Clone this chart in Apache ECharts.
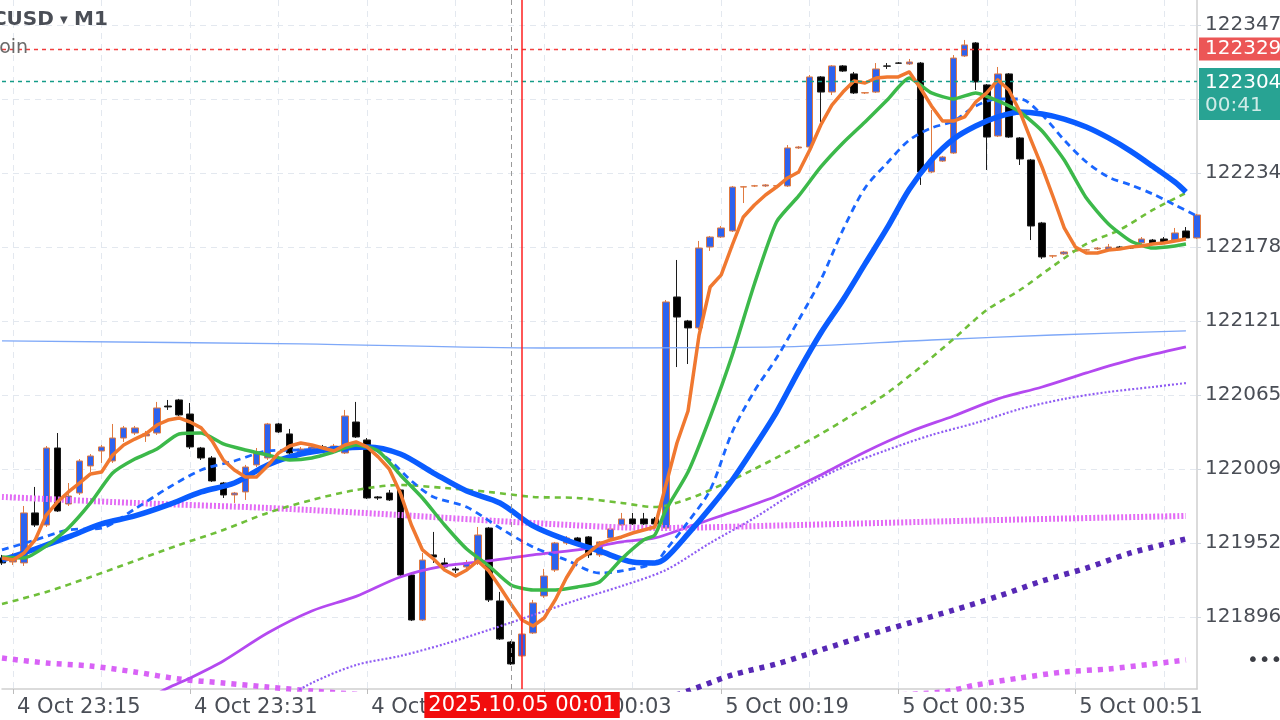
<!DOCTYPE html>
<html><head><meta charset="utf-8">
<script src="https://cdn.jsdelivr.net/npm/echarts@6/dist/echarts.min.js"></script>
<style>html,body{margin:0;padding:0;background:#fff}#c{width:1280px;height:720px}</style>
</head><body><div id="c"></div>
<script>
// ---------- DATA ----------
const categories = [
'4 Oct 23:14','4 Oct 23:15','4 Oct 23:16','4 Oct 23:17','4 Oct 23:18','4 Oct 23:19','4 Oct 23:20','4 Oct 23:21','4 Oct 23:22','4 Oct 23:23',
'4 Oct 23:24','4 Oct 23:25','4 Oct 23:26','4 Oct 23:27','4 Oct 23:28','4 Oct 23:29','4 Oct 23:30','4 Oct 23:31','4 Oct 23:32','4 Oct 23:33',
'4 Oct 23:34','4 Oct 23:35','4 Oct 23:36','4 Oct 23:37','4 Oct 23:38','4 Oct 23:39','4 Oct 23:40','4 Oct 23:41','4 Oct 23:42','4 Oct 23:43',
'4 Oct 23:44','4 Oct 23:45','4 Oct 23:46','4 Oct 23:47','4 Oct 23:48','4 Oct 23:49','4 Oct 23:50','4 Oct 23:51','4 Oct 23:52','4 Oct 23:53',
'4 Oct 23:54','4 Oct 23:55','4 Oct 23:56','4 Oct 23:57','4 Oct 23:58','4 Oct 23:59','5 Oct 00:00','5 Oct 00:01','5 Oct 00:02','5 Oct 00:03',
'5 Oct 00:04','5 Oct 00:05','5 Oct 00:06','5 Oct 00:07','5 Oct 00:08','5 Oct 00:09','5 Oct 00:10','5 Oct 00:11','5 Oct 00:12','5 Oct 00:13',
'5 Oct 00:14','5 Oct 00:15','5 Oct 00:16','5 Oct 00:17','5 Oct 00:18','5 Oct 00:19','5 Oct 00:20','5 Oct 00:21','5 Oct 00:22','5 Oct 00:23',
'5 Oct 00:24','5 Oct 00:25','5 Oct 00:26','5 Oct 00:27','5 Oct 00:28','5 Oct 00:29','5 Oct 00:30','5 Oct 00:31','5 Oct 00:32','5 Oct 00:33',
'5 Oct 00:34','5 Oct 00:35','5 Oct 00:36','5 Oct 00:37','5 Oct 00:38','5 Oct 00:39','5 Oct 00:40','5 Oct 00:41','5 Oct 00:42','5 Oct 00:43',
'5 Oct 00:44','5 Oct 00:45','5 Oct 00:46','5 Oct 00:47','5 Oct 00:48','5 Oct 00:49','5 Oct 00:50','5 Oct 00:51','5 Oct 00:52','5 Oct 00:53',
'5 Oct 00:54','5 Oct 00:55','5 Oct 00:56','5 Oct 00:57','5 Oct 00:58','5 Oct 00:59','5 Oct 01:00','5 Oct 01:01','5 Oct 01:02'
];

const opens = [
121941.3,121938.2,121937.5,121975.6,121966.4,122025.1,121982.4,121990.8,122011.4,122022.8,
122015.2,122032.7,122036.5,122034.3,122036.5,122057.1,122061.7,122051.0,122025.1,122017.5,
121998.4,121989.3,121991.6,122012.2,122017.5,122043.4,122035.8,122022.1,122024.3,122025.9,
122023.6,122021.3,122044.9,122031.2,121987.8,121990.8,121993.1,121928.3,121894.0,121943.6,
121937.5,121932.9,121934.4,121937.5,121964.1,121908.5,121877.2,121866.6,121884.1,121912.3,
121932.1,121952.7,121956.5,121957.3,121943.6,121956.5,121966.4,121971.0,121971.0,121971.0,
121964.1,122140.2,122121.9,122116.6,122178.3,122185.9,122190.5,122224.0,122224.8,122224.8,
122224.8,122224.8,122253.8,122254.5,122307.9,122296.4,122316.3,122310.2,122295.7,122296.4,
122316.3,122318.5,122317.8,122318.5,122235.5,122243.8,122249.9,122323.9,122333.8,122301.8,
122262.9,122310.2,122261.4,122244.6,122196.6,122171.4,122173.0,122175.3,122176.0,122176.8,
122176.0,122178.3,122178.3,122181.4,122183.6,122184.4,122183.6,122190.5,122185.2
];
const closes = [
121937.5,121941.3,121975.6,121966.4,122025.1,121977.1,121988.5,122015.2,122019.0,122025.9,
122032.7,122040.4,122040.4,122035.8,122055.6,122056.4,122050.3,122025.9,122017.5,122000.0,
121989.3,121990.8,122010.6,122021.3,122043.4,122037.3,122021.3,122024.3,122025.9,122025.1,
122026.6,122049.5,122033.5,121987.0,121987.0,121985.5,121928.3,121894.0,121939.7,121942.0,
121934.4,121932.1,121937.5,121958.8,121909.3,121879.5,121860.5,121883.3,121907.0,121927.5,
121952.7,121956.5,121952.7,121943.6,121953.5,121963.4,121971.0,121967.2,121967.2,121967.2,
122136.4,122124.9,122116.6,122177.5,122185.9,122192.8,122224.0,122224.2,122224.9,122225.6,
122225.0,122253.8,122254.5,122307.9,122296.4,122316.3,122312.4,122295.7,122295.9,122314.0,
122316.1,122318.4,122319.3,122235.5,122244.6,122246.9,122322.3,122332.3,122304.1,122262.1,
122310.2,122262.1,122245.4,122194.3,122170.7,122171.6,122174.5,122175.4,122176.1,122177.5,
122178.3,122177.5,122177.5,122184.4,122181.4,122181.4,122189.0,122185.2,122202.7
];
const lows = [
121935.9,121935.9,121935.2,121964.9,121964.9,121976.3,121980.9,121989.3,122006.8,122013.7,
122013.7,122029.7,122035.0,122029.7,122035.0,122054.1,122049.5,122024.3,122016.0,121999.2,
121987.0,121983.2,121985.5,122010.6,122016.0,122036.5,122019.8,122020.5,122022.8,122023.6,
122022.1,122020.5,122032.7,121986.2,121985.5,121984.7,121927.5,121893.2,121893.2,121937.5,
121933.6,121929.8,121932.1,121935.9,121907.7,121878.8,121859.7,121865.8,121883.3,121910.8,
121930.6,121951.2,121951.2,121941.3,121942.0,121955.0,121965.7,121966.4,121966.4,121965.7,
121963.4,122086.8,122089.1,122115.0,122175.3,122185.2,122189.7,122211.8,122224.0,122224.0,
122223.3,122224.0,122253.0,122253.8,122273.6,122294.1,122311.7,122294.9,122294.9,122295.7,
122314.0,122317.8,122317.0,122225.6,122234.7,122243.1,122249.2,122323.1,122298.0,122237.0,
122262.1,122261.4,122240.8,122183.6,122169.2,122169.9,122172.2,122174.5,122175.3,122176.0,
122175.3,122176.8,122176.8,122180.6,122180.6,122180.6,122182.9,122184.4,122184.4
];
const highs = [
121943.6,121945.1,121980.9,121995.4,122026.6,122036.5,121998.4,122016.7,122020.5,122027.4,
122043.4,122041.9,122041.9,122038.1,122060.2,122061.7,122062.5,122059.4,122025.9,122019.0,
121999.2,121991.6,122012.2,122025.1,122044.2,122044.2,122039.6,122025.9,122027.4,122027.4,
122028.2,122054.1,122060.2,122032.7,121988.5,121993.1,121993.9,121929.1,121945.1,121961.1,
121941.3,121934.4,121939.7,121964.9,121964.9,121915.4,121878.0,121894.0,121909.3,121932.9,
121953.5,121958.0,121957.3,121958.0,121954.2,121964.1,121975.6,121975.6,121975.6,121972.5,
122137.9,122168.4,122122.7,122182.9,122186.7,122194.3,122224.8,122224.8,122225.6,122226.3,
122225.6,122256.0,122255.3,122309.4,122308.6,122317.0,122317.0,122311.7,122296.4,122318.5,
122318.5,122319.3,122321.6,122319.3,122282.7,122247.7,122324.6,122336.1,122334.5,122302.5,
122315.5,122310.9,122262.1,122245.4,122197.4,122172.2,122175.3,122176.0,122176.8,122178.3,
122180.6,122179.1,122179.1,122185.9,122184.4,122185.9,122192.8,122193.5,122203.5
];

// fast EMA (orange), one value per minute from 23:14
const emaFast = [
121941.3,121939.7,121945.1,121955.0,121974.0,121983.9,121991.6,121998.4,122005.3,122006.8,
122019.8,122027.4,122031.9,122035.8,122042.6,122046.4,122048.0,122044.9,122040.4,122030.4,
122016.0,122008.3,122003.0,122003.0,122011.4,122021.3,122026.6,122028.9,122027.4,122025.1,
122022.8,122027.4,122029.7,122025.9,122018.3,122009.1,121990.8,121966.4,121947.4,121940.5,
121932.1,121927.5,121932.1,121939.0,121931.4,121919.2,121906.2,121894.0,121889.4,121895.5,
121909.3,121926.0,121939.7,121945.1,121952.0,121955.0,121957.3,121960.3,121962.6,121964.9,
121996.9,122028.9,122053.3,122111.2,122147.8,122157.0,122179.8,122201.2,122210.3,122217.9,
122224.0,122230.9,122235.5,122252.2,122271.3,122286.5,122296.4,122304.8,122303.3,122307.1,
122307.9,122307.9,122311.7,122299.5,122285.8,122274.3,122274.3,122277.4,122288.8,122295.7,
122305.6,122298.0,122281.2,122259.8,122239.2,122216.4,122192.8,122178.3,122173.7,122173.7,
122176.0,122176.8,122178.3,122179.1,122180.6,122181.4,122182.9,122184.4
];
// [minute index, value]
const maGreen = [[0,121942.0],[2,121941.3],[4,121950.4],[6,121964.1],[8,121983.2],[10,122006.0],[12,122016.7],[14,122024.3],[16,122035.8],[18,122036.5],
[20,122028.2],[22,122023.6],[24,122019.8],[26,122016.0],[28,122017.5],[30,122022.1],[32,122027.4],[34,122022.8],[36,122004.5],[38,121987.0],
[40,121966.4],[42,121948.1],[44,121935.2],[46,121920.7],[48,121916.9],[50,121916.9],[52,121919.2],[54,121923.0],[56,121940.5],[58,121955.0],
[59,121958.8],[60,121977.9],[62,122006.8],[64,122048.7],[66,122096.0],[68,122150.1],[70,122197.4],[72,122217.2],[74,122239.3],[76,122257.6],
[78,122273.6],[80,122290.3],[82,122307.1],[83,122301.8],[84,122295.7],[86,122291.1],[88,122295.7],[90,122289.6],[92,122281.2],[94,122266.7],
[96,122244.6],[98,122215.6],[100,122195.9],[102,122182.9],[104,122177.5],[106,122179.1],[107,122180.6]];
const maBlue = [[0,121939.7],[3,121948.1],[6,121957.3],[9,121967.2],[12,121973.3],[15,121981.7],[18,121991.6],[21,121998.4],[24,122012.2],[27,122020.5],
[30,122024.3],[33,122025.9],[36,122020.5],[39,122006.0],[42,121992.3],[45,121983.2],[48,121965.7],[51,121955.0],[54,121946.6],[57,121938.2],
[59,121937.5],[60,121941.3],[62,121959.6],[64,121979.4],[66,122000.7],[68,122025.9],[70,122052.5],[72,122083.7],[74,122112.7],[76,122137.9],
[78,122165.4],[80,122192.8],[82,122222.3],[84,122244.6],[86,122260.6],[88,122270.5],[90,122277.4],[92,122281.2],[94,122279.6],[96,122275.8],
[98,122269.7],[100,122261.4],[102,122251.4],[104,122239.8],[106,122227.8],[107,122220.2]];
const maBlueDash = [[0,121947.4],[3,121955.0],[6,121962.6],[9,121964.1],[12,121978.6],[15,121994.6],[18,122008.3],[21,122015.2],[24,122022.8],[27,122023.6],
[30,122025.1],[33,122025.9],[35,122016.0],[37,122000.0],[39,121987.8],[42,121980.1],[45,121964.1],[48,121949.6],[51,121939.7],[54,121929.8],
[56,121931.4],[59,121937.5],[60,121947.4],[62,121968.7],[64,121993.1],[66,122037.3],[68,122068.5],[70,122093.7],[72,122122.7],[74,122153.2],
[76,122191.3],[78,122223.3],[80,122242.3],[82,122259.8],[84,122269.0],[86,122274.3],[88,122285.8],[90,122291.1],[92,122291.1],[94,122278.9],
[96,122259.8],[98,122243.1],[100,122231.6],[102,122225.6],[104,122218.7],[106,122210.3],[108,122201.9]];
const maGreenDash = [[0,121906.2],[4,121915.4],[8,121926.8],[12,121939.0],[16,121951.2],[20,121962.6],[24,121975.6],[28,121985.5],[32,121993.1],[36,121996.9],
[40,121994.6],[44,121991.6],[48,121987.8],[52,121987.0],[56,121983.2],[59,121980.1],[62,121986.2],[65,121996.9],[68,122009.1],[71,122022.1],
[74,122035.8],[77,122051.0],[80,122067.0],[83,122086.8],[86,122108.2],[89,122130.3],[92,122145.5],[95,122163.8],[98,122180.6],[101,122191.3],
[104,122206.5],[107,122219.5]];
const maLightBlue = [[0,122106.7],[27,122104.4],[49,122101.3],[70,122102.1],[84,122107.4],[95,122111.2],[107,122114.3]];
const maMagenta = [[13,121833.0],[15,121842.2],[17,121849.8],[20,121862.8],[24,121884.1],[28,121900.9],[32,121912.0],[36,121926.8],[40,121935.2],[44,121939.0],
[48,121943.6],[52,121947.4],[56,121953.5],[59,121956.5],[62,121964.9],[66,121976.3],[70,121988.5],[74,122004.5],[78,122022.1],[82,122037.3],
[86,122049.5],[90,122062.5],[94,122071.6],[98,122082.3],[102,122092.2],[107,122102.1]];
const maPinkDots = [[0,121987.8],[12,121983.2],[24,121979.4],[36,121974.0],[48,121967.9],[59,121964.1],[72,121966.4],[90,121970.2],[107,121973.3]];
const maVioletDots = [[25,121831.5],[28,121846.0],[32,121859.7],[36,121866.6],[40,121875.7],[44,121886.4],[48,121897.8],[52,121909.3],[56,121919.9],[60,121932.1],
[64,121952.7],[68,121971.8],[72,121993.1],[76,122010.6],[80,122023.6],[84,122035.0],[88,122044.2],[92,122054.8],[96,122062.5],[100,122067.8],
[104,122071.6],[107,122074.6]];
const maIndigoDots = [[59,121831.5],[62,121839.9],[66,121852.1],[70,121860.5],[74,121871.1],[78,121881.8],[82,121891.7],[86,121901.6],[90,121912.0],[94,121923.7],
[98,121933.6],[102,121945.1],[107,121955.8]];
const maOrchidDots = [[0,121865.0],[4,121861.2],[8,121858.9],[12,121854.4],[16,121849.0],[20,121846.0],[24,121842.9],[28,121839.9],[36,121835.3],[48,121831.5],
[62,121833.0],[76,121835.3],[85,121839.1],[88,121844.4],[92,121849.8],[96,121854.4],[100,121856.7],[104,121860.5],[107,121863.5]];

const yTicks = [121896.3,121952.7,122009.1,122065.5,122121.9,122178.3,122234.7,122291.1,122347.5];
const askPrice = 122329.2;
const bidPrice = 122304.8;
const countdown = '00:41';
const crossTime = '5 Oct 00:00';
const markTime = '5 Oct 00:01';
const markTimeLabel = '2025.10.05 00:01';
const symbolTitle = 'BTCUSD';
const symbolName = 'Bitcoin';
const timeframe = 'M1';

// ---------- CHART ----------
const FONT = '"DejaVu Sans", sans-serif';
const candles = opens.map((o, i) => [o, closes[i], lows[i], highs[i]]);

function ln(name, data, color, width, type, smooth) {
  return { type: 'line', name, data, showSymbol: false, symbol: 'none', smooth: smooth || false,
    connectNulls: true, silent: true, clip: true, z: 3,
    lineStyle: { color, width, type: type || 'solid', cap: 'butt', join: 'round' } };
}

const chart = echarts.init(document.getElementById('c'), null, { renderer: 'canvas' });
chart.setOption({
  animation: false,
  backgroundColor: '#ffffff',
  textStyle: { fontFamily: FONT },
  title: {
    text: '{n|' + symbolTitle + '} {t|▼} {n|' + timeframe + '}',
    subtext: symbolName,
    left: -37, top: 10, padding: 0, itemGap: 9,
    textStyle: { rich: { n: { fontSize: 20, color: '#4a4e56', fontFamily: FONT }, t: { fontSize: 10, color: '#4a4e56', fontFamily: FONT } } },
    subtextStyle: { fontSize: 19, color: '#6b6b6b', fontFamily: FONT }
  },
  grid: { left: 2, right: 83, top: 0, bottom: 31, outerBoundsMode: 'none', containLabel: false },
  xAxis: {
    type: 'category', data: categories, boundaryGap: false,
    axisLine: { show: true, lineStyle: { color: '#cfcfcf', width: 1.5 } },
    axisTick: { show: true, interval: (i) => (i - 1) % 16 === 0, length: 5, lineStyle: { color: '#bdbdbd' } },
    axisLabel: { interval: (i) => (i - 1) % 16 === 0, align: 'left', padding: [0, 0, 0, 4], margin: 8,
      fontSize: 21, color: '#4a4e56', fontFamily: FONT },
    splitLine: { show: true, interval: (i) => (i - 1) % 8 === 0, lineStyle: { color: '#e3e8ef', type: [6, 5], width: 1 } }
  },
  yAxis: {
    type: 'value', position: 'right', min: 121841.4, max: 122366.55, scale: true,
    axisLine: { show: true, lineStyle: { color: '#cfcfcf', width: 1.5 } },
    axisTick: { show: true, customValues: yTicks, length: 4, lineStyle: { color: '#d3d9e1' } },
    axisLabel: { customValues: yTicks, formatter: (v) => v.toFixed(2), margin: 8, fontSize: 20, color: '#4a4e56', fontFamily: FONT },
    splitLine: { show: true, lineStyle: { color: '#e3e8ef', type: [6, 5], width: 1 } }
  },
  graphic: [
    { type: 'text', left: 1247, top: 651, style: { text: '•••', fontSize: 20, fill: '#3b3d44', fontFamily: 'DejaVu Sans' } }
  ],
  series: [
    {
      type: 'candlestick', name: symbolTitle, data: candles, barWidth: 7, z: 2,
      itemStyle: { color: '#2d62ee', color0: '#000000', borderColor: '#e07a40', borderColor0: '#1c1c1c', borderWidth: 1 },
      markLine: {
        symbol: ['none', 'none'], silent: true, animation: false, z: 6,
        data: [
          { yAxis: askPrice, lineStyle: { color: '#f03c3c', type: [4, 4], width: 1.3 },
            label: { show: true, position: 'end', distance: 2, formatter: (p) => p.value.toFixed(2),
              backgroundColor: '#ec5656', color: '#ffffff', fontSize: 20, lineHeight: 21, padding: [1, 6, 1, 6], fontFamily: FONT } },
          { yAxis: bidPrice, lineStyle: { color: '#169c89', type: [4, 4], width: 1.3 },
            label: { show: true, position: 'end', distance: 2, offset: [0, 13],
              formatter: (p) => '{a|' + p.value.toFixed(2) + '}\n{b|' + countdown + '}',
              backgroundColor: '#28a393', padding: [3, 6, 3, 6],
              rich: { a: { color: '#ffffff', fontSize: 20, lineHeight: 23, fontFamily: FONT },
                      b: { color: 'rgba(255,255,255,0.78)', fontSize: 20, lineHeight: 23, fontFamily: FONT } } } },
          { xAxis: crossTime, lineStyle: { color: '#9a9a9a', type: [5, 4], width: 1 }, label: { show: false } },
          { xAxis: markTime, lineStyle: { color: '#ff1f1f', type: 'solid', width: 1.5 },
            label: { show: true, position: 'start', distance: 3, formatter: markTimeLabel,
              backgroundColor: '#f20d0d', color: '#ffffff', fontSize: 21, padding: [3, 4, 2, 4], fontFamily: FONT } }
        ]
      }
    },
    ln('MA orchid', maOrchidDots, '#d862f6', 5.5, [5, 6], 0.3),
    ln('MA indigo', maIndigoDots, '#5728b5', 5.5, [5, 6], 0.3),
    ln('MA violet', maVioletDots, '#8f5cf3', 2.2, [2, 2], 0.3),
    ln('MA magenta', maMagenta, '#b449f0', 2.8, 'solid', 0.3),
    ln('MA pink', maPinkDots, '#e36bf5', 6, [2, 2], 0.3),
    ln('MA light blue', maLightBlue, '#7ea8f8', 1.3, 'solid', 0.3),
    ln('MA green dashed', maGreenDash, '#6fbf3a', 2.6, [6, 5], 0.3),
    ln('MA blue dashed', maBlueDash, '#1a66ff', 2.8, [7, 5], 0.3),
    ln('MA blue', maBlue, '#0a5cff', 5.5, 'solid', 0.3),
    ln('MA green', maGreen, '#3cb94a', 3.5, 'solid', 0.2),
    ln('EMA orange', emaFast, '#f07830', 3.5, 'solid', false)
  ]
});
</script>
</body></html>
